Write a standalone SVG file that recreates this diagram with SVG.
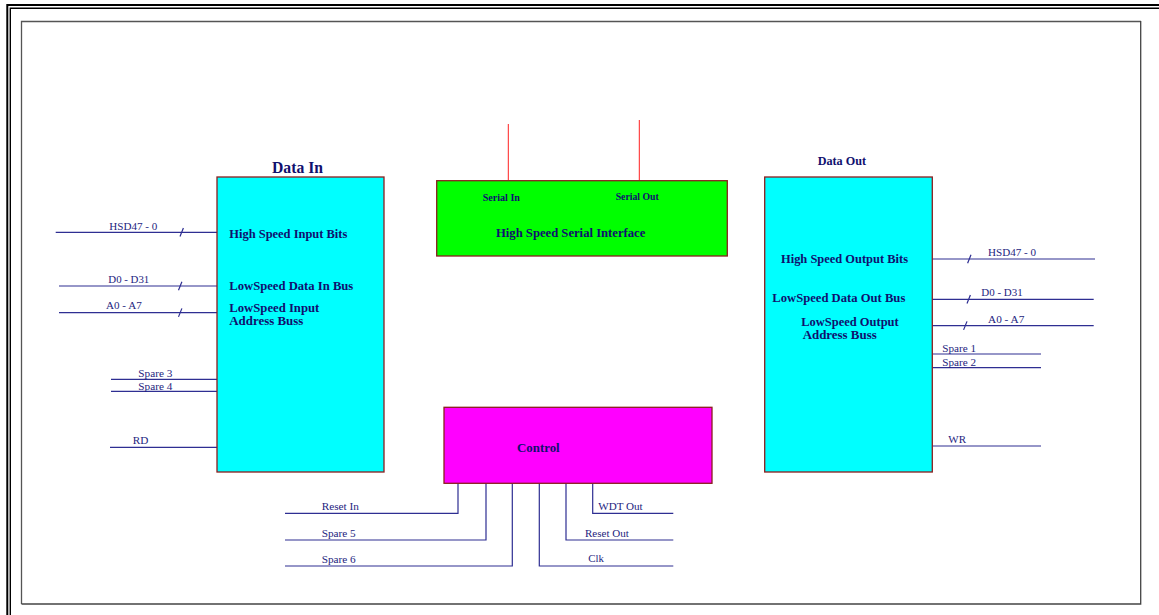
<svg xmlns="http://www.w3.org/2000/svg" width="1159" height="615" viewBox="0 0 1159 615">
<style>
.frame{fill:none}
.box{stroke:#8B1E1E;stroke-width:1.3}
.w{stroke:#2E2E92;stroke-width:1.2;fill:none}
.red{stroke:#FF2020;stroke-width:1}
.lbl{font-family:"Liberation Serif","Times New Roman",serif;font-size:11px;fill:#1E1E80}
.b{font-family:"Liberation Serif","Times New Roman",serif;font-weight:bold;fill:#10106E}
</style>
<rect width="1159" height="615" fill="#ffffff"/>
<g id="page-frame" class="frame">
<path d="M7.3 615 V5 H1159" stroke="#000" stroke-width="2"/>
<path d="M10.3 615 V8.2 H1159" stroke="#000" stroke-width="1.4"/>
<path d="M21.5 604 V21.5 H1141" stroke="#555" stroke-width="1.3"/>
<path d="M21.5 604 H1140.7 V21" stroke="#444" stroke-width="1.3"/>
</g>
<g id="connectors">
<!-- Data In side -->
<line class="w" x1="55.7" y1="232.3" x2="217" y2="232.3"/>
<line class="w" x1="180" y1="236.5" x2="183.4" y2="228"/>
<line class="w" x1="59" y1="286" x2="217" y2="286"/>
<line class="w" x1="178.5" y1="290.2" x2="181.9" y2="281.7"/>
<line class="w" x1="59" y1="312.7" x2="217" y2="312.7"/>
<line class="w" x1="178.5" y1="316.9" x2="181.9" y2="308.4"/>
<line class="w" x1="111" y1="379.3" x2="217" y2="379.3"/>
<line class="w" x1="111" y1="391.3" x2="217" y2="391.3"/>
<line class="w" x1="110" y1="447.3" x2="217" y2="447.3"/>
<!-- Data Out side -->
<line class="w" x1="932" y1="259" x2="1095" y2="259"/>
<line class="w" x1="967.6" y1="263.2" x2="971" y2="254.7"/>
<line class="w" x1="932" y1="299.3" x2="1093.7" y2="299.3"/>
<line class="w" x1="967" y1="303.5" x2="970.4" y2="295"/>
<line class="w" x1="932" y1="325.7" x2="1093.7" y2="325.7"/>
<line class="w" x1="963.6" y1="329.9" x2="967" y2="321.4"/>
<line class="w" x1="932" y1="354" x2="1041" y2="354"/>
<line class="w" x1="932" y1="367.7" x2="1041" y2="367.7"/>
<line class="w" x1="932" y1="446" x2="1041" y2="446"/>
<!-- Serial -->
<line class="red" x1="508.3" y1="124" x2="508.3" y2="180"/>
<line class="red" x1="639.3" y1="120" x2="639.3" y2="180.5"/>
<!-- Control -->
<path class="w" d="M458 483.3 V513.3 H285"/>
<path class="w" d="M486 483.3 V540 H285"/>
<path class="w" d="M512.3 483.3 V566 H285"/>
<path class="w" d="M539.3 483.3 V566 H673.3"/>
<path class="w" d="M566 483.3 V540 H673.3"/>
<path class="w" d="M592.7 483.3 V513.3 H673.3"/>
</g>
<g id="labels">
<text class="lbl" x="109.3" y="230" textLength="48" lengthAdjust="spacingAndGlyphs">HSD47 - 0</text>
<text class="lbl" x="108.3" y="282.7" textLength="41" lengthAdjust="spacingAndGlyphs">D0 - D31</text>
<text class="lbl" x="106" y="309.3" textLength="35.7" lengthAdjust="spacingAndGlyphs">A0 - A7</text>
<text class="lbl" x="138.3" y="377.3" textLength="34" lengthAdjust="spacingAndGlyphs">Spare 3</text>
<text class="lbl" x="138.3" y="390" textLength="34" lengthAdjust="spacingAndGlyphs">Spare 4</text>
<text class="lbl" x="132.7" y="444.3" textLength="15.6" lengthAdjust="spacingAndGlyphs">RD</text>
<text class="lbl" x="988" y="255.7" textLength="48" lengthAdjust="spacingAndGlyphs">HSD47 - 0</text>
<text class="lbl" x="981.3" y="295.7" textLength="41.4" lengthAdjust="spacingAndGlyphs">D0 - D31</text>
<text class="lbl" x="988" y="322.7" textLength="36.3" lengthAdjust="spacingAndGlyphs">A0 - A7</text>
<text class="lbl" x="942.3" y="351.7" textLength="33.7" lengthAdjust="spacingAndGlyphs">Spare 1</text>
<text class="lbl" x="942.3" y="366" textLength="33.7" lengthAdjust="spacingAndGlyphs">Spare 2</text>
<text class="lbl" x="948.3" y="442.7" textLength="17.7" lengthAdjust="spacingAndGlyphs">WR</text>
<text class="lbl" x="321.7" y="510" textLength="37.3" lengthAdjust="spacingAndGlyphs">Reset In</text>
<text class="lbl" x="321.7" y="537.3" textLength="34" lengthAdjust="spacingAndGlyphs">Spare 5</text>
<text class="lbl" x="321.7" y="563" textLength="34" lengthAdjust="spacingAndGlyphs">Spare 6</text>
<text class="lbl" x="598.3" y="510" textLength="44.4" lengthAdjust="spacingAndGlyphs">WDT Out</text>
<text class="lbl" x="585" y="536.7" textLength="43.7" lengthAdjust="spacingAndGlyphs">Reset Out</text>
<text class="lbl" x="588.3" y="562.3" textLength="15.7" lengthAdjust="spacingAndGlyphs">Clk</text>
</g>
<g id="data-in">
<text class="b" x="272" y="172.7" font-size="16" textLength="51" lengthAdjust="spacingAndGlyphs">Data In</text>
<rect class="box" x="217" y="177" width="167" height="295" fill="#00FFFF"/>
<text class="b" x="229.3" y="238.3" font-size="13.5" textLength="118" lengthAdjust="spacingAndGlyphs">High Speed Input Bits</text>
<text class="b" x="229.3" y="290" font-size="13.5" textLength="124" lengthAdjust="spacingAndGlyphs">LowSpeed Data In Bus</text>
<text class="b" x="229.3" y="311.7" font-size="13.5" textLength="90" lengthAdjust="spacingAndGlyphs">LowSpeed Input</text>
<text class="b" x="229.3" y="325" font-size="13.5" textLength="74" lengthAdjust="spacingAndGlyphs">Address Buss</text>
</g>
<g id="serial-interface">
<rect class="box" x="436.7" y="180.7" width="290.6" height="75.3" fill="#00FF00"/>
<text class="b" x="482.7" y="201" font-size="10.5" textLength="37.3" lengthAdjust="spacingAndGlyphs">Serial In</text>
<text class="b" x="615.7" y="200.3" font-size="10.5" textLength="43" lengthAdjust="spacingAndGlyphs">Serial Out</text>
<text class="b" x="496" y="236.7" font-size="13" textLength="149.3" lengthAdjust="spacingAndGlyphs">High Speed Serial Interface</text>
</g>
<g id="data-out">
<text class="b" x="817.7" y="165" font-size="13" textLength="48.3" lengthAdjust="spacingAndGlyphs">Data Out</text>
<rect class="box" x="764.7" y="177" width="167.6" height="295" fill="#00FFFF"/>
<text class="b" x="781" y="262.7" font-size="13.5" textLength="127" lengthAdjust="spacingAndGlyphs">High Speed Output Bits</text>
<text class="b" x="772.3" y="301.7" font-size="13.5" textLength="133" lengthAdjust="spacingAndGlyphs">LowSpeed Data Out Bus</text>
<text class="b" x="801.3" y="325.7" font-size="13.5" textLength="97.4" lengthAdjust="spacingAndGlyphs">LowSpeed Output</text>
<text class="b" x="802.7" y="339.3" font-size="13.5" textLength="74" lengthAdjust="spacingAndGlyphs">Address Buss</text>
</g>
<g id="control">
<rect class="box" x="444" y="407.3" width="268" height="76" fill="#FF00FF"/>
<text class="b" x="517" y="451.7" font-size="13" textLength="42.7" lengthAdjust="spacingAndGlyphs">Control</text>
</g>
</svg>
